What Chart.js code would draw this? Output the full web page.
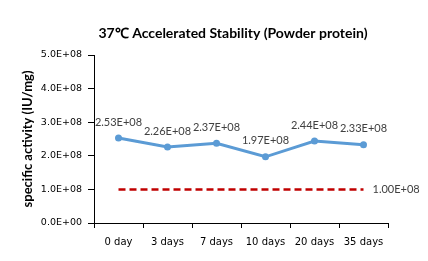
<!DOCTYPE html>
<html>
<head>
<meta charset="utf-8">
<script src="https://cdn.jsdelivr.net/npm/chart.js@4/dist/chart.umd.min.js"></script>
<style>
  body { margin: 0; background: #fff; }
</style>
</head>
<body>
<canvas id="stabilityChart" width="428" height="261"></canvas>
<script>
const categories = ['0 day', '3 days', '7 days', '10 days', '20 days', '35 days'];
const activity = [2.53e8, 2.26e8, 2.37e8, 1.97e8, 2.44e8, 2.33e8];
const limit = [1e8, 1e8, 1e8, 1e8, 1e8, 1e8];
const yTickLabels = ['0.0E+00', '1.0E+08', '2.0E+08', '3.0E+08', '4.0E+08', '5.0E+08'];

// Excel style scientific notation, e.g. 2.53E+08
function sci(v, digits) {
    const [m, e] = v.toExponential(digits).split('e');
    const n = parseInt(e);
    return m + 'E' + (n < 0 ? '-' : '+') + String(Math.abs(n)).padStart(2, '0');
}

const labelPlugin = {
    id: 'labels',
    afterDatasetsDraw(chart) {
        const ctx = chart.ctx;
        ctx.save();
        ctx.font = '11px Lato';
        ctx.fillStyle = '#404040';
        ctx.textBaseline = 'middle';

        chart.getDatasetMeta(0).data.forEach((pt, i) => {
            ctx.textAlign = 'center';
            ctx.fillText(sci(activity[i], 2), pt.x, pt.y - 16);
        });

        const limitPts = chart.getDatasetMeta(1).data;
        const last = limitPts[limitPts.length - 1];
        ctx.textAlign = 'left';
        ctx.fillText(sci(limit[limit.length - 1], 2), last.x + 9, last.y);

        // chart title
        ctx.font = 'bold 14px Lato';
        ctx.fillStyle = '#000';
        ctx.textAlign = 'center';
        ctx.fillText('37\u2103 Accelerated Stability (Powder protein)', 233, 33);
        ctx.restore();
    }
};

document.addEventListener('DOMContentLoaded', function () {
    const ctx = document.getElementById('stabilityChart').getContext('2d');

    new Chart(ctx, {
        type: 'line',
        data: {
            labels: categories,
            datasets: [{
                data: activity,
                borderColor: '#5B9BD5',
                backgroundColor: '#5B9BD5',
                borderWidth: 3,
                pointRadius: 3.5,
                pointBorderWidth: 0,
                tension: 0
            }, {
                data: limit,
                borderColor: '#C00000',
                borderWidth: 2.5,
                borderDash: [7, 4],
                pointRadius: 0,
                tension: 0
            }]
        },
        options: {
            responsive: false,
            animation: false,
            layout: {
                padding: { top: 55, right: 40, bottom: 0, left: 0 }
            },
            plugins: {
                legend: { display: false },
                title: { display: false },
                tooltip: { enabled: false }
            },
            scales: {
                x: {
                    offset: true,
                    grid: {
                        offset: true,
                        drawOnChartArea: false,
                        drawTicks: true,
                        tickLength: 5,
                        color: '#000'
                    },
                    border: { color: '#000', width: 1 },
                    ticks: {
                        color: '#000',
                        font: { family: 'DejaVu Sans', size: 10 },
                        padding: 8,
                        maxRotation: 0
                    },
                    afterFit(scale) { scale.height = 38; }
                },
                y: {
                    min: 0,
                    max: 5e8,
                    grid: {
                        drawOnChartArea: false,
                        drawTicks: true,
                        tickLength: 6,
                        color: '#000'
                    },
                    border: { color: '#000', width: 1 },
                    ticks: {
                        stepSize: 1e8,
                        color: '#000',
                        font: { family: 'DejaVu Sans', size: 9.5 },
                        padding: 6,
                        callback: (v, i) => yTickLabels[i]
                    },
                    title: {
                        display: true,
                        text: 'specific activity (IU/mg)',
                        color: '#000',
                        font: { family: 'Lato', size: 13, weight: 'bold' },
                        padding: { top: 20, bottom: 4 }
                    },
                    afterFit(scale) { scale.width = 94; }
                }
            }
        },
        plugins: [labelPlugin]
    });
});
</script>
</body>
</html>
